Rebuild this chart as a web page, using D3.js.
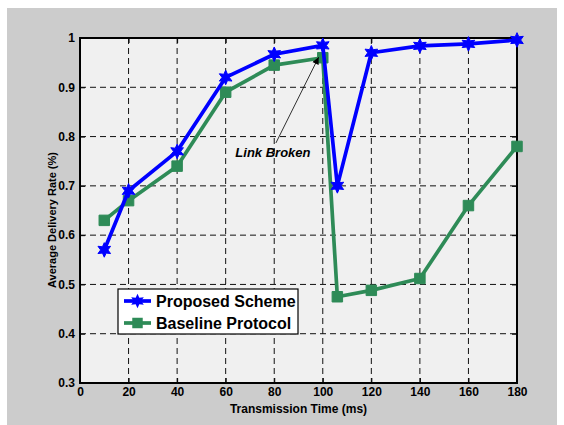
<!DOCTYPE html>
<html>
<head>
<meta charset="utf-8">
<script src="https://cdn.jsdelivr.net/npm/d3@7"></script>
<style>
  body { margin: 0; background: #fff; }
  text { font-family: "Liberation Sans", Arial, Helvetica, sans-serif; font-weight: bold; }
</style>
</head>
<body>
<svg width="564" height="425"></svg>
<script>
// data
const times = [10, 20, 40, 60, 80, 100, 106, 120, 140, 160, 180];
const proposed = [0.57, 0.69, 0.77, 0.92, 0.967, 0.985, 0.70, 0.97, 0.984, 0.988, 0.996];
const baseline = [0.63, 0.67, 0.74, 0.89, 0.945, 0.96, 0.475, 0.488, 0.512, 0.66, 0.78];
const xTicks = [0, 20, 40, 60, 80, 100, 120, 140, 160, 180];
const yTicks = [0.3, 0.4, 0.5, 0.6, 0.7, 0.8, 0.9, 1];
const seriesNames = ['Proposed Scheme', 'Baseline Protocol'];
const arrowFrom = [80.7, 0.787];
const arrowTo = [98.3, 0.961];

const svg = d3.select('svg');
const width = +svg.attr('width');
const height = +svg.attr('height');

const margin = { top: 38, right: 47, bottom: 42, left: 80 };
const innerWidth = width - margin.left - margin.right;
const innerHeight = height - margin.top - margin.bottom;

// grey figure background
svg.append('rect')
  .attr('x', 7).attr('y', 8)
  .attr('width', 550).attr('height', height - 8)
  .attr('fill', '#cccccc');

const xScale = d3.scaleLinear().domain([0, 180]).range([0, innerWidth]);
const yScale = d3.scaleLinear().domain([0.3, 1]).range([innerHeight, 0]);

const g = svg.append('g')
  .attr('transform', `translate(${margin.left},${margin.top})`);

g.append('rect')
  .attr('width', innerWidth).attr('height', innerHeight)
  .attr('fill', '#f0f0f0');

// dashed grid
const grid = g.append('g')
  .attr('stroke', '#111')
  .attr('stroke-width', 1)
  .attr('stroke-dasharray', '6,4');
grid.selectAll('.vg').data(xTicks.slice(1, -1))
  .enter().append('line')
    .attr('x1', d => xScale(d)).attr('x2', d => xScale(d))
    .attr('y1', 0).attr('y2', innerHeight);
grid.selectAll('.hg').data(yTicks.slice(1, -1))
  .enter().append('line')
    .attr('y1', d => yScale(d)).attr('y2', d => yScale(d))
    .attr('x1', 0).attr('x2', innerWidth);

// axes with inward ticks on all sides
const styleAxis = sel => {
  sel.selectAll('.domain').remove();
  sel.selectAll('line').attr('stroke', '#000');
  sel.selectAll('text').attr('font-size', 12).attr('fill', '#000')
    .attr('font-weight', 'bold');
};
const noLabels = sel => sel.selectAll('text').remove();

g.append('g')
  .attr('transform', `translate(0,${innerHeight})`)
  .call(d3.axisBottom(xScale).tickValues(xTicks).tickSize(-5).tickPadding(4).tickFormat(d3.format('d')))
  .call(styleAxis);
g.append('g')
  .call(d3.axisTop(xScale).tickValues(xTicks).tickSize(-5))
  .call(styleAxis).call(noLabels);
g.append('g')
  .call(d3.axisLeft(yScale).tickValues(yTicks).tickSize(-5).tickPadding(5).tickFormat(d => d === 1 ? '1' : d3.format('.1f')(d)))
  .call(styleAxis);
g.append('g')
  .attr('transform', `translate(${innerWidth},0)`)
  .call(d3.axisRight(yScale).tickValues(yTicks).tickSize(-5))
  .call(styleAxis).call(noLabels);

g.append('rect')
  .attr('width', innerWidth).attr('height', innerHeight)
  .attr('fill', 'none').attr('stroke', '#000').attr('stroke-width', 2);

// hexagram marker
const hexagram = {
  draw(context, size) {
    const r = Math.sqrt(size / 1.6);
    const ri = r * 0.5;
    for (let i = 0; i < 12; i++) {
      const a = -Math.PI / 2 + i * Math.PI / 6;
      const rr = i % 2 === 0 ? r : ri;
      const px = rr * Math.cos(a), py = rr * Math.sin(a);
      if (i === 0) context.moveTo(px, py); else context.lineTo(px, py);
    }
    context.closePath();
  }
};

const series = [
  { name: seriesNames[0], values: proposed, color: '#0000ff', symbol: hexagram, size: 85 },
  { name: seriesNames[1], values: baseline, color: '#2e8b57', symbol: d3.symbolSquare, size: 110 }
];

const line = d3.line()
  .x((d, i) => xScale(times[i]))
  .y(d => yScale(d));

// baseline drawn first so the blue sits on top
series.slice().reverse().forEach(s => {
  g.append('path')
    .datum(s.values)
    .attr('d', line)
    .attr('fill', 'none')
    .attr('stroke', s.color)
    .attr('stroke-width', 3.7)
    .attr('stroke-linejoin', 'round');
  g.selectAll(null).data(s.values)
    .enter().append('path')
      .attr('transform', (d, i) => `translate(${xScale(times[i])},${yScale(d)})`)
      .attr('d', d3.symbol().type(s.symbol).size(s.size))
      .attr('fill', s.color)
      .attr('stroke', s.color)
      .attr('stroke-width', 1);
});

// annotation
svg.append('defs').append('marker')
  .attr('id', 'arrow')
  .attr('viewBox', '0 0 10 10')
  .attr('refX', 10).attr('refY', 5)
  .attr('markerWidth', 9).attr('markerHeight', 7)
  .attr('markerUnits', 'userSpaceOnUse')
  .attr('orient', 'auto')
  .append('path').attr('d', 'M0,0 L10,5 L0,10 z').attr('fill', '#000');

g.append('line')
  .attr('x1', xScale(arrowFrom[0])).attr('y1', yScale(arrowFrom[1]))
  .attr('x2', xScale(arrowTo[0])).attr('y2', yScale(arrowTo[1]))
  .attr('stroke', '#000').attr('stroke-width', 0.8)
  .attr('marker-end', 'url(#arrow)');

g.append('text')
  .attr('x', xScale(arrowFrom[0]) - 3)
  .attr('y', yScale(arrowFrom[1]) + 14)
  .attr('text-anchor', 'middle')
  .attr('font-size', 13)
  .attr('font-style', 'italic')
  .text('Link Broken');

// legend
const legend = svg.append('g').attr('transform', 'translate(118,289)');
legend.append('rect')
  .attr('width', 180).attr('height', 45)
  .attr('fill', '#fff').attr('stroke', '#000').attr('stroke-width', 1.2);
series.forEach((s, i) => {
  const row = legend.append('g').attr('transform', `translate(0,${12 + i * 22})`);
  row.append('line')
    .attr('x1', 6).attr('x2', 33)
    .attr('stroke', s.color).attr('stroke-width', 3.7);
  row.append('path')
    .attr('transform', 'translate(19.5,0)')
    .attr('d', d3.symbol().type(s.symbol).size(s.size))
    .attr('fill', s.color);
  row.append('text')
    .attr('x', 38).attr('y', 6)
    .attr('font-size', 16)
    .text(s.name);
});

// axis labels
svg.append('text')
  .attr('x', margin.left + innerWidth / 2)
  .attr('y', 413)
  .attr('text-anchor', 'middle')
  .attr('font-size', 12)
  .text('Transmission Time (ms)');

svg.append('text')
  .attr('transform', `translate(56,220) rotate(-90)`)
  .attr('text-anchor', 'middle')
  .attr('font-size', 11)
  .text('Average Delivery Rate (%)');
</script>
</body>
</html>
